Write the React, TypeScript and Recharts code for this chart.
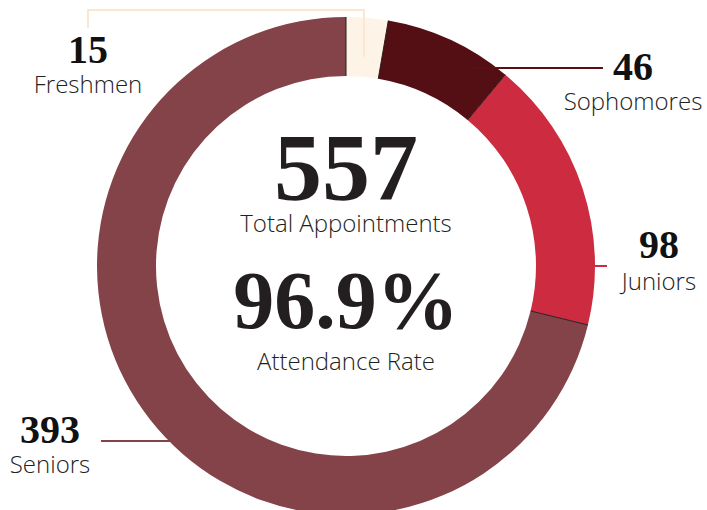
import { PieChart, Pie, Cell } from "recharts";

const classes = ["Freshmen", "Sophomores", "Juniors", "Seniors"];
const appointments = [15, 46, 98, 393];
const colors = ["#fdf3e6", "#540f14", "#cc2b40", "#844349"];
const lineColors = ["#fbe7d0", "#5a0f14", "#cc2b40", "#844349"];

const totalLabel = "557";
const totalCaption = "Total Appointments";
const rateLabel = "96.9%";
const rateCaption = "Attendance Rate";

const data = classes.map((name, i) => ({ name, value: appointments[i] }));

const NUM_FONT = "'Liberation Serif', 'Times New Roman', serif";
const SANS_FONT = "'Open Sans', 'Noto Sans', sans-serif";
const RAD = Math.PI / 180;

function pt(cx: number, cy: number, r: number, angle: number) {
  return { x: cx + r * Math.cos(-angle * RAD), y: cy + r * Math.sin(-angle * RAD) };
}

// callout placement for each slice (number center, caption below)
const callouts = [
  { x: 88, numY: 63, capY: 93 },
  { x: 633, numY: 80, capY: 110 },
  { x: 659, numY: 258, capY: 290 },
  { x: 50, numY: 443, capY: 473 },
];

function leader(i: number, cx: number, cy: number, inner: number, outer: number, mid: number) {
  const c = lineColors[i];
  if (i === 0) {
    const p = pt(cx, cy, inner + 20, mid);
    return (
      <polyline
        points={`${callouts[0].x},28 ${callouts[0].x},10 ${p.x},10 ${p.x},${p.y}`}
        fill="none"
        stroke={c}
        strokeWidth={2}
      />
    );
  }
  if (i === 1) {
    return <line x1={473} y1={68} x2={603} y2={68} stroke={c} strokeWidth={2} />;
  }
  if (i === 2) {
    return <line x1={cx + outer} y1={cy} x2={cx + outer + 12} y2={cy} stroke={c} strokeWidth={2} />;
  }
  return <line x1={101} y1={441} x2={170} y2={441} stroke={c} strokeWidth={2} />;
}

function renderLabel(props: any) {
  const { cx, cy, innerRadius, outerRadius, startAngle, midAngle, index, value, name } = props;
  const a = pt(cx, cy, innerRadius, startAngle);
  const b = pt(cx, cy, outerRadius, startAngle);
  const c = callouts[index];
  return (
    <g>
      <line x1={a.x} y1={a.y} x2={b.x} y2={b.y} stroke="#2b1e1e" strokeWidth={1} />
      {leader(index, cx, cy, innerRadius, outerRadius, midAngle)}
      <text x={c.x} y={c.numY} textAnchor="middle" fontFamily={NUM_FONT} fontWeight={700} fontSize={40} fill="#111">
        {value}
      </text>
      <text x={c.x} y={c.capY} textAnchor="middle" fontFamily={SANS_FONT} fontWeight={300} fontSize={24} fill="#222">
        {name}
      </text>
    </g>
  );
}

export default function App() {
  const cx = 346;
  return (
    <div style={{ position: "absolute", left: 0, top: 0, width: 707, height: 510, background: "#fff" }}>
      <PieChart width={707} height={510} margin={{ top: 0, right: 0, bottom: 0, left: 0 }}>
        <Pie
          data={data}
          dataKey="value"
          nameKey="name"
          cx={cx}
          cy={266}
          innerRadius={190}
          outerRadius={249}
          startAngle={90}
          endAngle={-270}
          stroke="none"
          label={renderLabel}
          labelLine={false}
          isAnimationActive={false}
        >
          {data.map((d, i) => (
            <Cell key={d.name} fill={colors[i]} />
          ))}
        </Pie>
        <text x={cx} y={200} textAnchor="middle" fontFamily={NUM_FONT} fontWeight={700} fontSize={96} fill="#231f20">
          {totalLabel}
        </text>
        <text x={cx} y={232} textAnchor="middle" fontFamily={SANS_FONT} fontWeight={300} fontSize={24} fill="#231f20">
          {totalCaption}
        </text>
        <text x={cx} y={328} textAnchor="middle" fontFamily={NUM_FONT} fontWeight={700} fontSize={82} fill="#231f20">
          {rateLabel}
        </text>
        <text x={cx} y={370} textAnchor="middle" fontFamily={SANS_FONT} fontWeight={300} fontSize={24} fill="#231f20">
          {rateCaption}
        </text>
      </PieChart>
    </div>
  );
}
